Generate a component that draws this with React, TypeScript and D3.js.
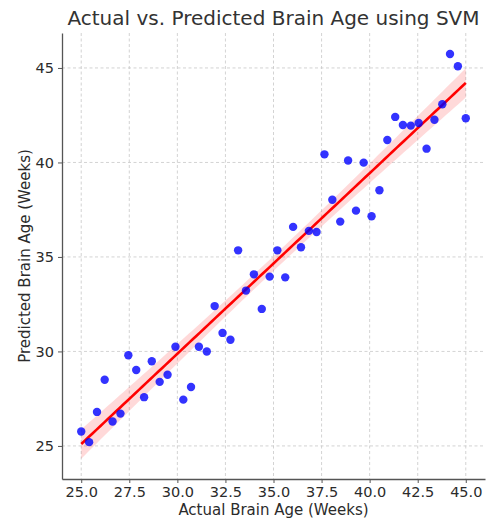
import React, { useEffect, useRef } from 'react'
import * as d3 from 'd3'

// values
const actualAge = [
  25.0, 25.41, 25.82, 26.22, 26.63, 27.04, 27.45, 27.86, 28.27, 28.67,
  29.08, 29.49, 29.9, 30.31, 30.71, 31.12, 31.53, 31.94, 32.35, 32.76,
  33.16, 33.57, 33.98, 34.39, 34.8, 35.2, 35.61, 36.02, 36.43, 36.84,
  37.24, 37.65, 38.06, 38.47, 38.88, 39.29, 39.69, 40.1, 40.51, 40.92,
  41.33, 41.73, 42.14, 42.55, 42.96, 43.37, 43.78, 44.18, 44.59, 45.0,
]
const predictedAge = [
  25.76, 25.2, 26.8, 28.5, 26.29, 26.71, 29.8, 29.02, 27.58, 29.48,
  28.39, 28.77, 30.25, 27.45, 28.12, 30.25, 30.0, 32.4, 30.98, 30.62,
  35.35, 33.22, 34.08, 32.25, 33.96, 35.35, 33.92, 36.59, 35.51, 36.38,
  36.32, 40.43, 38.03, 36.87, 40.1, 37.45, 39.99, 37.15, 38.53, 41.19,
  42.41, 41.98, 41.95, 42.09, 40.73, 42.26, 43.08, 45.74, 45.09, 42.34,
]
const xTicks = [25.0, 27.5, 30.0, 32.5, 35.0, 37.5, 40.0, 42.5, 45.0]
const yTicks = [25, 30, 35, 40, 45]

const W = 486
const H = 520
const margin = { top: 33, right: 1, bottom: 41, left: 62 }

function drawChart(el: SVGSVGElement) {
  const svg = d3.select(el)
  svg.selectAll('*').remove()
  const font = 'DejaVu Sans, sans-serif'

  const x = d3.scaleLinear().domain([24, 46]).range([margin.left, W - margin.right])
  const y = d3.scaleLinear().domain([23.25, 46.85]).range([H - margin.bottom, margin.top])

  // grid
  const grid = svg.append('g')
  grid.selectAll('line.vx').data(xTicks).join('line')
    .attr('x1', d => x(d)).attr('x2', d => x(d))
    .attr('y1', margin.top).attr('y2', H - margin.bottom)
    .attr('stroke', '#c8c8c8').attr('stroke-width', 0.8).attr('stroke-dasharray', '3,2.5')
  grid.selectAll('line.hy').data(yTicks).join('line')
    .attr('y1', d => y(d)).attr('y2', d => y(d))
    .attr('x1', margin.left).attr('x2', W - margin.right)
    .attr('stroke', '#c8c8c8').attr('stroke-width', 0.8).attr('stroke-dasharray', '3,2.5')

  // linear regression + 95% confidence band
  const n = actualAge.length
  const mx = d3.mean(actualAge) as number
  const my = d3.mean(predictedAge) as number
  let sxx = 0, sxy = 0
  actualAge.forEach((v, i) => { sxx += (v - mx) ** 2; sxy += (v - mx) * (predictedAge[i] - my) })
  const slope = sxy / sxx
  const icpt = my - slope * mx
  let sse = 0
  actualAge.forEach((v, i) => { sse += (predictedAge[i] - (icpt + slope * v)) ** 2 })
  const s = Math.sqrt(sse / (n - 2))
  const tval = 2.01
  const [x0, x1] = d3.extent(actualAge) as [number, number]
  const xs = d3.range(0, 101).map(i => x0 + (x1 - x0) * i / 100)
  const band = xs.map(v => {
    const fit = icpt + slope * v
    const se = s * Math.sqrt(1 / n + (v - mx) ** 2 / sxx)
    return { v, lo: fit - tval * se, hi: fit + tval * se, fit }
  })

  svg.append('path').datum(band)
    .attr('d', d3.area<any>().x(d => x(d.v)).y0(d => y(d.lo)).y1(d => y(d.hi)))
    .attr('fill', 'red').attr('fill-opacity', 0.15)
  svg.append('path').datum(band)
    .attr('d', d3.line<any>().x(d => x(d.v)).y(d => y(d.fit)))
    .attr('fill', 'none').attr('stroke', 'red').attr('stroke-width', 2.6)

  // points
  svg.append('g').selectAll('circle').data(actualAge).join('circle')
    .attr('cx', d => x(d)).attr('cy', (d, i) => y(predictedAge[i]))
    .attr('r', 4.2).attr('fill', 'blue').attr('fill-opacity', 0.8)

  // axes
  const xAxis = svg.append('g').attr('transform', `translate(0,${H - margin.bottom})`)
    .call(d3.axisBottom(x).tickValues(xTicks).tickFormat(d3.format('.1f')).tickSizeOuter(0).tickSizeInner(4).tickPadding(4))
  const yAxis = svg.append('g').attr('transform', `translate(${margin.left},0)`)
    .call(d3.axisLeft(y).tickValues(yTicks).tickFormat(d3.format('d')).tickSizeOuter(0).tickSizeInner(4).tickPadding(4))
  for (const ax of [xAxis, yAxis]) {
    ax.select('.domain').attr('stroke', '#555').attr('stroke-width', 1.3)
    ax.selectAll('.tick line').attr('stroke', '#555').attr('stroke-width', 1)
    ax.selectAll('.tick text').attr('fill', '#2b2b2b').style('font-family', font).style('font-size', '14.5px')
  }

  svg.append('text').attr('x', (margin.left + W - margin.right) / 2).attr('y', 25)
    .attr('text-anchor', 'middle').attr('fill', '#333')
    .style('font-family', font).style('font-size', '20px')
    .text('Actual vs. Predicted Brain Age using SVM')
  svg.append('text').attr('x', (margin.left + W - margin.right) / 2).attr('y', 515)
    .attr('text-anchor', 'middle').attr('fill', '#2b2b2b')
    .style('font-family', font).style('font-size', '15px')
    .text('Actual Brain Age (Weeks)')
  svg.append('text').attr('transform', `translate(30,${(margin.top + H - margin.bottom) / 2}) rotate(-90)`)
    .attr('text-anchor', 'middle').attr('fill', '#2b2b2b')
    .style('font-family', font).style('font-size', '15px')
    .text('Predicted Brain Age (Weeks)')
}

export default function App() {
  const ref = useRef<SVGSVGElement>(null)
  useEffect(() => {
    if (ref.current) drawChart(ref.current)
  })
  return (
    <svg ref={ref} width={W} height={H}
      style={{ position: 'absolute', left: 0, top: 0, background: '#fff' }} />
  )
}
